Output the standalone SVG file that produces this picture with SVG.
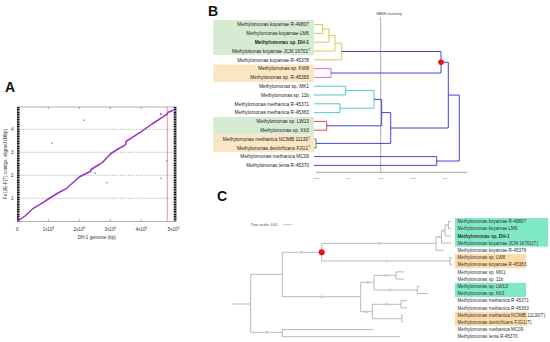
<svg xmlns="http://www.w3.org/2000/svg" width="550" height="342" viewBox="0 0 550 342">
<style>
text{font-family:"Liberation Sans",Arial,sans-serif}
.pl{font-size:14px;font-weight:bold;fill:#111}
.ax{font-size:4.6px;fill:#333}
.lb{font-size:4.8px;fill:#222;text-anchor:end}
.lc{font-size:4.6px;fill:#333}
.b{font-weight:bold}
.sup{font-size:3px}
.blue{stroke:#4444dd;stroke-width:1;fill:none}
.yel{stroke:#c8c83c;stroke-width:0.9;fill:none}
.mag{stroke:#e050d0;stroke-width:0.9;fill:none}
.teal{stroke:#40c4c4;stroke-width:0.9;fill:none}
.red{stroke:#e03838;stroke-width:0.9;fill:none}
.grn{stroke:#208a40;stroke-width:0.9;fill:none}
.tc{stroke:#a8a8a8;stroke-width:0.8;fill:none}
.lav{fill:#c8c8f4}
.gB{fill:#d6ecd2}.oB{fill:#fbe6c4}
.gC{fill:#80e8c4}.oC{fill:#fbdba8}
</style>

<!-- Panel A -->
<g id="panelA">
<text class="pl" x="5" y="92">A</text>
<rect x="17.3" y="107" width="158.7" height="114.3" fill="none" stroke="#666" stroke-width="0.5"/>
<g stroke="#777" stroke-width="0.5" stroke-dasharray="1.5 1.2">
<line x1="17.3" y1="198.3" x2="176" y2="198.3"/>
<line x1="17.3" y1="175.3" x2="176" y2="175.3"/>
<line x1="17.3" y1="152.3" x2="176" y2="152.3"/>
<line x1="17.3" y1="129.3" x2="176" y2="129.3"/>
</g>
<g stroke="#555" stroke-width="0.5">
<line x1="48.3" y1="221.3" x2="48.3" y2="219.3"/><line x1="79.3" y1="221.3" x2="79.3" y2="219.3"/>
<line x1="110.3" y1="221.3" x2="110.3" y2="219.3"/><line x1="141.3" y1="221.3" x2="141.3" y2="219.3"/>
<line x1="48.3" y1="107" x2="48.3" y2="109"/><line x1="79.3" y1="107" x2="79.3" y2="109"/>
<line x1="110.3" y1="107" x2="110.3" y2="109"/><line x1="141.3" y1="107" x2="141.3" y2="109"/>
</g>
<g stroke="#111" stroke-width="2.6" stroke-dasharray="1.2 0.5">
<line x1="18.3" y1="107" x2="18.3" y2="221.3"/>
<line x1="175" y1="107" x2="175" y2="221.3"/>
</g>
<line x1="167.3" y1="107" x2="167.3" y2="221.3" stroke="#e04848" stroke-width="0.6"/>
<polyline fill="none" stroke="#a030c8" stroke-width="1.5" stroke-linejoin="round" points="17.3,221.3 25,216 33.3,208.3 43.3,202.3 48.3,199 58,193 66.7,188.3 79.3,177 88,172.5 90.5,171.5 91,169.5 100,164 103,162 110.3,154 118,149 125.5,144.8 126,141.5 141.3,131.7 152,124 163.3,116.7 166.7,114.3 168.3,112.3 171.7,111 173.3,110"/>
<polyline fill="none" stroke="#a030c8" stroke-width="1.3" points="174,113.3 176,116.7"/>
<g fill="#a030c8">
<rect x="102.5" y="160.9" width="1.6" height="1.6"/>
<rect x="159.9" y="113.2" width="1.6" height="1.6"/>
</g>
<g fill="#40c0c8">
<rect x="51.5" y="142.2" width="1.5" height="1.5"/>
<rect x="83.2" y="119.5" width="1.5" height="1.5"/>
<rect x="94.5" y="172.5" width="1.5" height="1.5"/>
<rect x="106.2" y="181.9" width="1.5" height="1.5"/>
<rect x="160.5" y="177.5" width="1.5" height="1.5"/>
<rect x="165.9" y="160.2" width="1.5" height="1.5"/>
</g>
<g class="ax">
<text x="17.3" y="231" text-anchor="middle">0</text>
<text x="48.3" y="231" text-anchor="middle">1x10<tspan class="sup" dy="-1.8">6</tspan></text>
<text x="79.3" y="231" text-anchor="middle">2x10<tspan class="sup" dy="-1.8">6</tspan></text>
<text x="110.3" y="231" text-anchor="middle">3x10<tspan class="sup" dy="-1.8">6</tspan></text>
<text x="141.3" y="231" text-anchor="middle">4x10<tspan class="sup" dy="-1.8">6</tspan></text>
<text x="173.5" y="231" text-anchor="middle">5x10<tspan class="sup" dy="-1.8">6</tspan></text>
<text x="13.5" y="200" text-anchor="end">1</text>
<text x="13.5" y="177" text-anchor="end">2</text>
<text x="13.5" y="154" text-anchor="end">3</text>
<text x="13.5" y="131" text-anchor="end">4</text>
<text x="96.7" y="239" text-anchor="middle">DH-1 genome (bp)</text>
<text transform="translate(6.5,164) rotate(-90)" text-anchor="middle">Fe12E-F(T) contigs, aligned (Mbp)</text>
</g>
</g>

<!-- Panel B -->
<g id="panelB">
<text class="pl" x="208" y="16">B</text>
<rect class="gB" x="213.3" y="20" width="100.7" height="35"/>
<rect class="oB" x="213.3" y="64.5" width="100.7" height="17.5"/>
<rect class="gB" x="213.3" y="117" width="100.7" height="17.6"/>
<rect class="oB" x="213.3" y="134.6" width="100.7" height="17.6"/>
<g id="labelsB">
<text class="lb" x="309" y="26.3">Methylomonas koyamae R-49807</text>
<text class="lb" x="309" y="35.1">Methylomonas koyamae LM6</text>
<text class="lb b" x="309" y="43.9">Methylomonas sp. DH-1</text>
<text class="lb" x="310" y="52.7">Methylokonas koyamae JCM 16701<tspan class="sup" dy="-1.8">T</tspan></text>
<text class="lb" x="309" y="61.5">Methylomonas koyamae R-45378</text>
<text class="lb" x="309" y="70.3">Methylomonas sp. KW8</text>
<text class="lb" x="309" y="79.1">Methylomonas sp. R-45383</text>
<text class="lb" x="309" y="87.9">Methylomonas sp. MK1</text>
<text class="lb" x="309" y="96.7">Methylomonas sp. 11b</text>
<text class="lb" x="309" y="105.5">Methylomonas methanica R-45371</text>
<text class="lb" x="309" y="114.3">Methylomonas methanica R-45363</text>
<text class="lb" x="309" y="123.1">Methylomonas sp. LW13</text>
<text class="lb" x="309" y="131.9">Methylomonas sp. Kb3</text>
<text class="lb" x="310" y="140.7">Methylomonas methanica NCIMB 11130<tspan class="sup" dy="-1.8">T</tspan></text>
<text class="lb" x="310" y="149.5">Methylomonas denitrificans FJG1<tspan class="sup" dy="-1.8">T</tspan></text>
<text class="lb" x="309" y="158.3">Methylomonas methanica MC09</text>
<text class="lb" x="309" y="167.1">Methylomonas lenta R-45370</text>
</g>
<line x1="380.7" y1="17" x2="380.7" y2="172.3" stroke="#999" stroke-width="0.8"/>
<text x="376.5" y="14.5" style="font-size:3.4px;fill:#444">MASH clustering</text>
<line x1="316" y1="172.3" x2="467" y2="172.3" stroke="#888" stroke-width="0.8"/>
<g style="font-size:2.4px;fill:#555" text-anchor="middle">
<text x="316.7" y="179.3">100.0</text>
<text x="348.3" y="179.3">97.5</text>
<text x="381" y="179.3">95.0</text>
<text x="413.3" y="179.3">92.5</text>
<text x="445" y="179.3">90.0</text>
</g>
</g>

<g id="connectorsB">
<path class="yel" d="M314 24.6H322.7M314 33.4H322.7M322.7 24.6V33.4M322.7 29H329M314 42.2H329M329 29V42.2M329 35.6H335M314 51H335M335 35.6V51M335 43.3H341.7M314 59.8H341.7M341.7 43.3V59.8"/>
<path class="mag" d="M314 68.6H331M314 77.4H331M331 68.6V77.4"/>
<path class="teal" d="M314 86.2H345.7M314 95H345.7M345.7 86.2V95M314 103.8H340M314 112.6H340M340 103.8V112.6M345.7 90.6H374M340 108.2H374M374 90.6V108.2"/>
<path class="red" d="M314 121.4H326.7M314 130.2H326.7M326.7 121.4V130.2"/>
<path class="grn" d="M314 139H316M314 147.8H316M316 139V147.8"/>
<path class="blue" d="M341.7 51.5H441M331 73H441M441 51.5V73M441 62.25H448.3M374 99.4H381.7M326.7 125.8H381.7M381.7 99.4V125.8M381.7 112.6H390.7M316 143.4H390.7M390.7 112.6V143.4M390.7 128H448.3M448.3 62.25V128M448.3 95.1H459.3M314 156.6H436.7M314 165.4H436.7M436.7 156.6V165.4M436.7 161H459.3M459.3 95.1V161"/>
<circle cx="441" cy="62.25" r="2.8" fill="#f01010"/>
</g>

<!-- Panel C -->
<g id="panelC">
<text class="pl" x="217" y="201">C</text>
<text x="250.7" y="225.8" style="font-size:3.8px;fill:#444">Tree scale: 0.01</text>
<line x1="283.3" y1="224.6" x2="291.7" y2="224.6" stroke="#999" stroke-width="0.6"/>
<rect class="gC" x="455" y="218" width="93" height="28.7"/>
<rect class="oC" x="455" y="254" width="71" height="14.3"/>
<rect class="gC" x="455" y="282.8" width="71" height="14.3"/>
<rect class="oC" x="455" y="311.6" width="72" height="14.3"/>
<g id="labelsC">
<text class="lc" x="457.5" y="223.1">Methylomonas koyamae R-49807</text>
<text class="lc" x="457.5" y="230.3">Methylomonas koyamae LM6</text>
<text class="lc b" x="457.5" y="237.5">Methylomonas sp. DH-1</text>
<text class="lc" x="457.5" y="244.7">Methylomonas koyamae JCM 16701(T)</text>
<text class="lc" x="457.5" y="251.9">Methylomonas koyamae R-45378</text>
<text class="lc" x="457.5" y="259.1">Methylomonas sp. LW8</text>
<text class="lc" x="457.5" y="266.3">Methylomonas koyamae R-45383</text>
<text class="lc" x="457.5" y="273.5">Methylomonas sp. MK1</text>
<text class="lc" x="457.5" y="280.7">Methylomonas sp. 11b</text>
<text class="lc" x="457.5" y="287.9">Methylomonas sp. LW13</text>
<text class="lc" x="457.5" y="295.1">Methylomonas sp. Kb3</text>
<text class="lc" x="457.5" y="302.3">Methylomonas methanica R-45371</text>
<text class="lc" x="457.5" y="309.5">Methylomonas methanica R-45363</text>
<text class="lc" x="457.5" y="316.7">Methylomonas methanica NCIMB 11130(T)</text>
<text class="lc" x="457.5" y="323.9">Methylomonas denitrificans FJG1(T)</text>
<text class="lc" x="457.5" y="331.1">Methylomonas methanica MC09</text>
<text class="lc" x="457.5" y="338.3">Methylomonas lenta R-45370</text>
</g>
</g>

<g id="connectorsC">
<path class="tc" d="M232 304H250.7M250.7 274.3V332.3M250.7 274.3H282.3M282.3 252.3V296.7M282.3 252.3H321.7M321.7 243.3V261M321.7 243.3H436M321.7 261H450M450 257.5V264.7M450 257.5H452M450 264.7H452
M436 236.8V250.3M436 250.3H444M436 236.8H441.5M441.5 230.5V243.1M441.5 243.1H451M441.5 230.5H445M445 225.1V235.9M445 235.9H451M445 225.1H448.5M448.5 221.5V228.7M448.5 221.5H451M448.5 228.7H451
M282.3 296.7H360.7M360.7 282.3V311.7M360.7 282.3H374M374 275.3V290M374 275.3H396M396 271.9V279.1M396 271.9H404M396 279.1H404M374 290H417.3M417.3 286.3V293.5M417.3 286.3H420M417.3 293.5H428
M360.7 311.7H372.3M372.3 304.3V318.7M372.3 304.3H401M401 300.7V307.9M401 300.7H407M401 307.9H407M372.3 318.7H401.7M401.7 315.1V322.3M401.7 315.1H403M401.7 322.3H403
M250.7 332.3H282.3M282.3 329.5V336.7M282.3 329.5H373.3M282.3 336.7H400"/>
<g class="lav">
<circle cx="301.7" cy="252.3" r="1.5"/>
<circle cx="379.3" cy="243.3" r="1.5"/>
<circle cx="386.7" cy="261" r="1.5"/>
<circle cx="321.7" cy="296.7" r="1.5"/>
<circle cx="367.7" cy="282.3" r="1.5"/>
<circle cx="385.7" cy="275.3" r="1.5"/>
<circle cx="390" cy="290" r="1.5"/>
<circle cx="366.5" cy="311.7" r="1.5"/>
<circle cx="386.7" cy="304.3" r="1.5"/>
<circle cx="266.7" cy="332.3" r="1.5"/>
<circle cx="439" cy="236.8" r="1.3"/>
<circle cx="443" cy="230.5" r="1.3"/>
<circle cx="446.6" cy="225.1" r="1.3"/>
</g>
<circle cx="321.7" cy="252.3" r="3" fill="#f01010"/>
</g>
</svg>
